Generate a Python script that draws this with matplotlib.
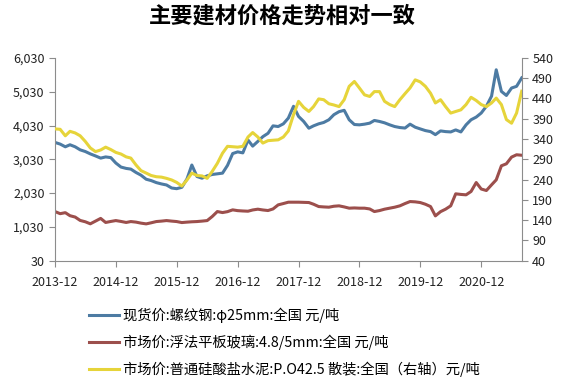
import numpy as np
import pandas as pd
import matplotlib
matplotlib.use('Agg')
import matplotlib.pyplot as plt
from matplotlib.ticker import FuncFormatter

plt.rcParams['font.family'] = ['Noto Sans CJK SC', 'DejaVu Sans']

# Monthly series, 2013-12 .. 2021-08
dates = pd.date_range('2013-12-01', periods=93, freq='MS')

# 现货价:螺纹钢 (left axis)
rebar = [3530, 3480, 3400, 3460, 3400, 3310, 3260, 3190, 3130, 3065,
         3100, 3080, 2920, 2800, 2760, 2740, 2640, 2560, 2440, 2400,
         2340, 2300, 2270, 2180, 2160, 2200, 2450, 2860, 2520, 2470,
         2540, 2580, 2600, 2620, 2850, 3200, 3250, 3220, 3600, 3420,
         3560, 3700, 3800, 4020, 4000, 4080, 4250, 4600, 4300, 4150,
         3950, 4020, 4080, 4120, 4200, 4350, 4440, 4480, 4200, 4060,
         4050, 4070, 4100, 4180, 4150, 4110, 4050, 4000, 3970, 3955,
         4070, 3980, 3930, 3880, 3850, 3760, 3870, 3850, 3840, 3900,
         3840, 4050, 4200, 4280, 4400, 4600, 4900, 5680, 5040, 4920,
         5140, 5190, 5440]

# 市场价:浮法平板玻璃 (left axis)
glass = [1483, 1420, 1450, 1360, 1320, 1220, 1180, 1120, 1200, 1280,
         1160, 1190, 1216, 1190, 1160, 1187, 1170, 1140, 1118, 1150,
         1187, 1200, 1216, 1200, 1187, 1157, 1170, 1180, 1187, 1200,
         1216, 1335, 1483, 1453, 1480, 1533, 1510, 1500, 1493, 1530,
         1553, 1530, 1513, 1560, 1681, 1720, 1760, 1760, 1760, 1755,
         1750, 1700, 1631, 1620, 1612, 1640, 1652, 1620, 1583, 1590,
         1583, 1583, 1560, 1483, 1512, 1553, 1583, 1612, 1652, 1720,
         1779, 1770, 1750, 1700, 1631, 1355, 1480, 1553, 1652, 2008,
         1990, 1978, 2077, 2342, 2150, 2106, 2274, 2422, 2837, 2897,
         3095, 3164, 3150]

# 市场价:普通硅酸盐水泥 (right axis)
cement = [365, 364, 348, 359, 355, 348, 334, 318, 309, 313,
          320, 314, 307, 303, 296, 293, 276, 262, 256, 250,
          247, 246, 243, 239, 233, 224, 239, 256, 250, 249,
          243, 260, 280, 305, 322, 321, 320, 322, 345, 356,
          345, 330, 336, 337, 338, 345, 360, 400, 433, 418,
          408, 420, 439, 437, 427, 424, 420, 437, 470, 482,
          466, 449, 445, 457, 457, 433, 425, 420, 437, 452,
          466, 486, 481, 470, 453, 429, 437, 420, 404, 408,
          412, 425, 443, 435, 425, 420, 429, 441, 425, 388,
          379, 404, 458]

labels = ['现货价:螺纹钢:φ25mm:全国 元/吨',
          '市场价:浮法平板玻璃:4.8/5mm:全国 元/吨',
          '市场价:普通硅酸盐水泥:P.O42.5 散装:全国（右轴）元/吨']
left_ticks = np.arange(30, 6031, 1000)
right_ticks = np.arange(40, 541, 50)
year_ticks = pd.date_range('2013-12-01', '2020-12-01', freq='12MS')

c_blue, c_red, c_yel = '#4d7ba3', '#9c4f4c', '#e6d43a'
grey = '#8c8c8c'

fig = plt.figure(figsize=(5.61, 3.89), dpi=100)
ax = fig.add_axes([0.098, 0.330, 0.832, 0.521])
ax2 = ax.twinx()

l1, = ax.plot(dates, rebar, color=c_blue, lw=2.2)
l2, = ax.plot(dates, glass, color=c_red, lw=2.2)
l3, = ax2.plot(dates, cement, color=c_yel, lw=2.2)

ax.set_xlim(dates[0], dates[-1])
ax.set_ylim(30, 6030)
ax2.set_ylim(40, 540)
ax.set_yticks(left_ticks)
ax2.set_yticks(right_ticks)
ax.yaxis.set_major_formatter(FuncFormatter(lambda v, p: f'{int(v):,}'))
ax.set_xticks(year_ticks)
ax.set_xticklabels([d.strftime('%Y-%m') for d in year_ticks])

for a in (ax, ax2):
    a.spines['top'].set_visible(False)
    for s in ('left', 'right', 'bottom'):
        a.spines[s].set_color(grey)
    a.tick_params(colors=grey, labelcolor='#222222', labelsize=9, length=4)
ax.spines['right'].set_visible(False)
ax2.spines['left'].set_visible(False)
ax2.spines['bottom'].set_visible(False)
ax.tick_params(axis='x', labelsize=9, pad=7)

fig.text(0.503, 0.958, '主要建材价格走势相对一致', ha='center', va='center',
         fontsize=16, fontweight='bold')

fig.legend([l1, l2, l3], labels, loc='upper left',
           bbox_to_anchor=(0.158, 0.209), frameon=False, fontsize=10.3,
           handlelength=2.15, handletextpad=0.25, labelspacing=0.8,
           borderaxespad=0, borderpad=0)

fig.savefig('out.png', dpi=100)
